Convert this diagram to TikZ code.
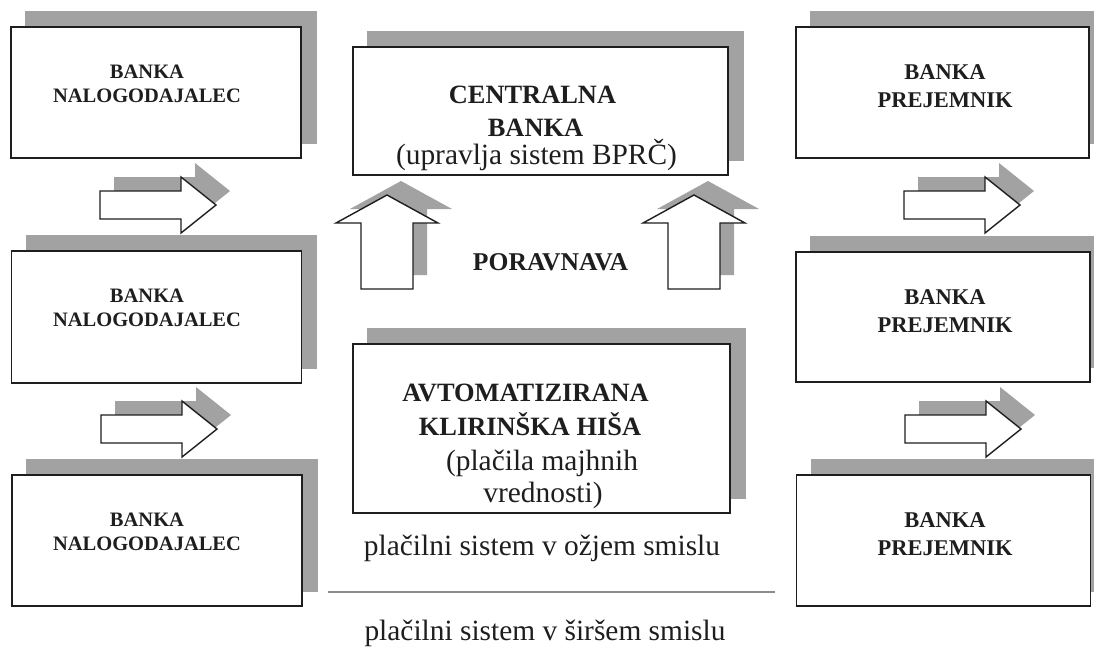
\documentclass[tikz,border=0pt]{standalone}
\usepackage{fontspec}
\setmainfont{Liberation Serif}
\definecolor{ink}{HTML}{1E1E1E}
\definecolor{shadowgray}{HTML}{A2A2A2}
\definecolor{rulegray}{HTML}{8C8C8C}
\pgfdeclarelayer{bg}
\pgfsetlayers{bg,main}
\tikzset{
  panel/.style={draw=ink, line width=1.4pt, fill=white, inner sep=0pt},
  lbl/.style={text=ink, inner sep=0pt, anchor=base},
  bankL/.style={lbl, font=\bfseries\fontsize{20.5}{24}\selectfont},
  bankR/.style={lbl, font=\bfseries\fontsize{22.5}{27}\selectfont},
  headtxt/.style={lbl, font=\bfseries\fontsize{26.4}{30}\selectfont},
  bodytxt/.style={lbl, font=\fontsize{29.4}{34}\selectfont},
  % block arrow pointing right, origin at the middle of its tail
  rarrow/.pic={
    \fill[shadowgray, shift={(14,-14)}] (0,-14) -- (81,-14) -- (81,-28) -- (116,0)
      -- (81,28) -- (81,14) -- (0,14) -- cycle;
    \draw[ink, line width=1.4pt, fill=white, line join=miter] (0,-14) -- (81,-14)
      -- (81,-28) -- (116,0) -- (81,28) -- (81,14) -- (0,14) -- cycle;
  },
  % block arrow pointing up, origin at the middle of its tail
  uarrow/.pic={
    \fill[shadowgray, shift={(14,-14)}] (-26,0) -- (-26,-66) -- (-51,-66) -- (0,-94)
      -- (51,-66) -- (26,-66) -- (26,0) -- cycle;
    \draw[ink, line width=1.4pt, fill=white, line join=miter] (-26,0) -- (-26,-66)
      -- (-51,-66) -- (0,-94) -- (51,-66) -- (26,-66) -- (26,0) -- cycle;
  },
}
\begin{document}
\begin{tikzpicture}[x=1pt, y=-1pt]
  \clip (0,0) rectangle (1094,648);

  % ordering banks
  \node[panel, minimum width=290pt, minimum height=131pt] (L1) at (156,92.5) {};
  \node[panel, minimum width=290pt, minimum height=132pt] (L2) at (156.5,317) {};
  \node[panel, minimum width=290pt, minimum height=131pt] (L3) at (157,540.5) {};
  % receiving banks
  \node[panel, minimum width=293pt, minimum height=131pt] (R1) at (942.5,92.5) {};
  \node[panel, minimum width=294pt, minimum height=130pt] (R2) at (943,317) {};
  \node[panel, minimum width=294pt, minimum height=131pt] (R3) at (943.5,540.5) {};
  % central bank and clearing house
  \node[panel, minimum width=375pt, minimum height=128pt] (C) at (540.5,111) {};
  \node[panel, minimum width=377pt, minimum height=169pt] (A) at (541.5,428.5) {};

  % drop shadows behind the boxes
  \begin{pgfonlayer}{bg}
    \foreach \b in {L1,L2,L3,R1,R2,R3,C,A}
      \fill[shadowgray] ([shift={(15,-15)}]\b.south west) rectangle ([shift={(15,-15)}]\b.north east);
  \end{pgfonlayer}

  % labels of the banks
  \foreach \b/\t in {L1/27,L2/251,L3/475} {
    \node[bankL] at (147,\t+51) {BANKA};
    \node[bankL] at (147,\t+75) {NALOGODAJALEC};
  }
  \foreach \b/\t in {R1/27,R2/252,R3/475} {
    \node[bankR] at (945,\t+52) {BANKA};
    \node[bankR] at (945,\t+80) {PREJEMNIK};
  }

  \node[headtxt] (c1) at (532.5,103) {CENTRALNA};
  \node[headtxt] (c2) at (535.5,136) {BANKA};
  \node[bodytxt] (c3) at (536.5,164) {(upravlja sistem BPRČ)};

  \node[headtxt] (a1) at (525.5,401) {AVTOMATIZIRANA};
  \node[headtxt] (a2) at (530,435) {KLIRINŠKA HIŠA};
  \node[bodytxt] (a3) at (542,470) {(plačila majhnih};
  \node[bodytxt] (a4) at (543,502) {vrednosti)};

  \node[lbl, font=\bfseries\fontsize{25.6}{30}\selectfont] (por) at (550.5,270) {PORAVNAVA};

  % block arrows
  \pic (la1) at (100,205) {rarrow};
  \pic (la2) at (101,429) {rarrow};
  \pic (ra1) at (904,205) {rarrow};
  \pic (ra2) at (905,429) {rarrow};
  \pic (ua1) at (387,289) {uarrow};
  \pic (ua2) at (694,289) {uarrow};

  % narrow / broad sense of the payment system
  \node[bodytxt] (narrow) at (542,555) {plačilni sistem v ožjem smislu};
  \coordinate (ruleL) at (328,592);
  \coordinate (ruleR) at (775,592);
  \draw[rulegray, line width=1.2pt] (ruleL) -- (ruleR);
  \node[bodytxt] (broad) at (545,640) {plačilni sistem v širšem smislu};
\end{tikzpicture}
\end{document}
